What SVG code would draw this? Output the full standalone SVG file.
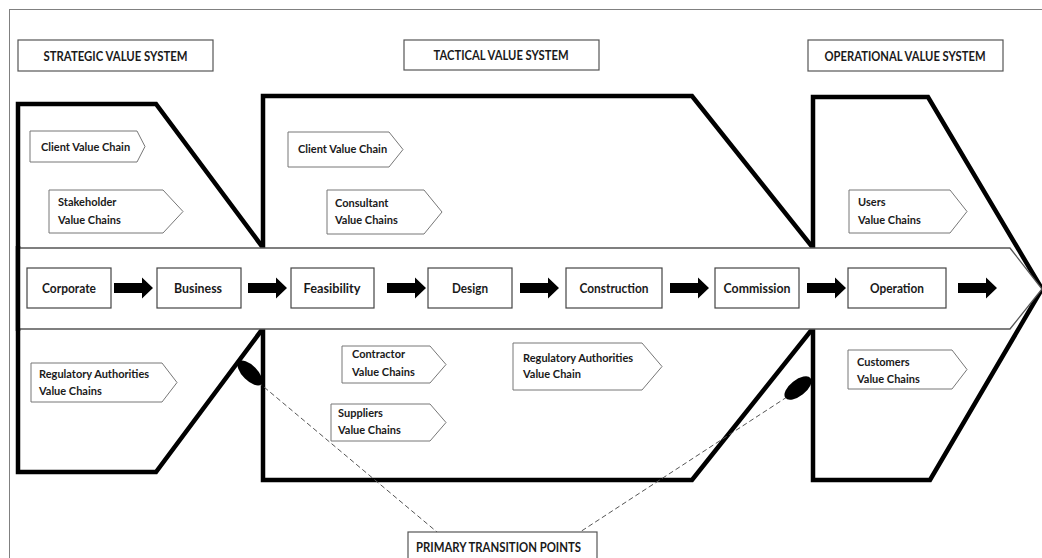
<svg xmlns="http://www.w3.org/2000/svg" width="1042" height="558" viewBox="0 0 1042 558">
<defs>
<style>
.frame{fill:none;stroke:#808080;stroke-width:1}
.panel{fill:#fff;stroke:#000;stroke-width:4.5;stroke-linejoin:miter}
.band{fill:#fff;stroke:#555;stroke-width:1.3}
.hdr{fill:#fff;stroke:#555;stroke-width:1.2}
.box{fill:#fff;stroke:#444;stroke-width:1.2}
.tag{fill:#fff;stroke:#777;stroke-width:1}
.t{font-family:Lato,"Liberation Sans",sans-serif;font-weight:bold;fill:#1a1a1a}
.th{font-size:13.5px;text-anchor:middle}
.tp{font-size:12.5px;text-anchor:middle}
.tt{font-size:11px}
.dash{fill:none;stroke:#555;stroke-width:1;stroke-dasharray:5 3}
</style>
<path id="arr" d="M0,-5 H28 V-10.5 L39,0 L28,10.5 V5 H0 Z" fill="#000"/>
</defs>
<rect width="1042" height="558" fill="#fff"/>
<rect class="frame" x="9.5" y="9.5" width="1040" height="560"/>

<g id="headers">
<g id="hdr-strategic"><rect class="hdr" x="18" y="40" width="195" height="31"/><text class="t th" x="115.5" y="61" textLength="144" lengthAdjust="spacingAndGlyphs">STRATEGIC VALUE SYSTEM</text></g>
<g id="hdr-tactical"><rect class="hdr" x="404" y="40" width="195" height="30"/><text class="t th" x="501" y="60" textLength="135" lengthAdjust="spacingAndGlyphs">TACTICAL VALUE SYSTEM</text></g>
<g id="hdr-operational"><rect class="hdr" x="808" y="40" width="195" height="31"/><text class="t th" x="905" y="61" textLength="161" lengthAdjust="spacingAndGlyphs">OPERATIONAL VALUE SYSTEM</text></g>
</g>

<g id="panels">
<polygon id="panel-strategic" class="panel" points="18,104 156,104 293,288 156,472 18,472"/>
<polygon id="panel-tactical" class="panel" points="263,96 692,96 845,288 692,480 263,480"/>
<polygon id="panel-operational" class="panel" points="813,97 928,97 1042,289 930,480 813,480"/>
</g>

<g id="band">
<polygon class="band" points="18,248 1010,248 1042,289 1010,329 18,329"/>
<line x1="18" y1="246" x2="18" y2="331" stroke="#000" stroke-width="4.5"/>
</g>

<g id="tags">
<g id="tag-client-1"><polygon class="tag" points="30,131 137,131 145,146.5 137,162 30,162"/><text class="t tt" x="41" y="151">Client Value Chain</text></g>
<g id="tag-stakeholder"><polygon class="tag" points="49,190 163,190 183,211.5 163,233 49,233"/><text class="t tt" x="58" y="206">Stakeholder</text><text class="t tt" x="58" y="224">Value Chains</text></g>
<g id="tag-client-2"><polygon class="tag" points="288,132 389,132 403,149.5 389,167 288,167"/><text class="t tt" x="298" y="153">Client Value Chain</text></g>
<g id="tag-consultant"><polygon class="tag" points="327,190 424,190 442,212 424,234 327,234"/><text class="t tt" x="335" y="207">Consultant</text><text class="t tt" x="335" y="224">Value Chains</text></g>
<g id="tag-users"><polygon class="tag" points="849,190 950,190 967,211.5 950,233 849,233"/><text class="t tt" x="858" y="206">Users</text><text class="t tt" x="858" y="224">Value Chains</text></g>
<g id="tag-regulatory-1"><polygon class="tag" points="31,363 162,363 177,382.5 162,402 31,402"/><text class="t tt" x="39" y="378">Regulatory Authorities</text><text class="t tt" x="39" y="395">Value Chains</text></g>
<g id="tag-contractor"><polygon class="tag" points="342,346 430,346 446,364.5 430,383 342,383"/><text class="t tt" x="352" y="358">Contractor</text><text class="t tt" x="352" y="376">Value Chains</text></g>
<g id="tag-suppliers"><polygon class="tag" points="331,404 430,404 446,422.5 430,441 331,441"/><text class="t tt" x="338" y="417">Suppliers</text><text class="t tt" x="338" y="434">Value Chains</text></g>
<g id="tag-regulatory-2"><polygon class="tag" points="513,343 642,343 662,366.5 642,390 513,390"/><text class="t tt" x="523" y="362">Regulatory Authorities</text><text class="t tt" x="523" y="378">Value Chain</text></g>
<g id="tag-customers"><polygon class="tag" points="848,350 952,350 967,369.5 952,389 848,389"/><text class="t tt" x="857" y="366">Customers</text><text class="t tt" x="857" y="383">Value Chains</text></g>
</g>

<g id="connectors">
<use href="#arr" x="114" y="288"/>
<use href="#arr" x="248" y="288"/>
<use href="#arr" x="387" y="288"/>
<use href="#arr" x="520" y="288"/>
<use href="#arr" x="670" y="288"/>
<use href="#arr" x="807" y="288"/>
<use href="#arr" x="958" y="288"/>
<line class="dash" x1="258" y1="382" x2="437" y2="532"/>
<line class="dash" x1="787" y1="397" x2="580" y2="532"/>
</g>

<g id="stages">
<g id="stage-corporate"><rect class="box" x="27" y="268" width="84" height="40"/><text class="t tp" x="69" y="293" textLength="54" lengthAdjust="spacingAndGlyphs">Corporate</text></g>
<g id="stage-business"><rect class="box" x="157" y="268" width="84" height="40"/><text class="t tp" x="198" y="293" textLength="48" lengthAdjust="spacingAndGlyphs">Business</text></g>
<g id="stage-feasibility"><rect class="box" x="291" y="268" width="83" height="40"/><text class="t tp" x="332" y="293" textLength="57" lengthAdjust="spacingAndGlyphs">Feasibility</text></g>
<g id="stage-design"><rect class="box" x="428" y="268" width="84" height="40"/><text class="t tp" x="470" y="293" textLength="36" lengthAdjust="spacingAndGlyphs">Design</text></g>
<g id="stage-construction"><rect class="box" x="566" y="268" width="96" height="40"/><text class="t tp" x="614" y="293" textLength="69" lengthAdjust="spacingAndGlyphs">Construction</text></g>
<g id="stage-commission"><rect class="box" x="715" y="268" width="84" height="40"/><text class="t tp" x="757" y="293" textLength="67" lengthAdjust="spacingAndGlyphs">Commission</text></g>
<g id="stage-operation"><rect class="box" x="848" y="268" width="98" height="40"/><text class="t tp" x="897" y="293" textLength="54" lengthAdjust="spacingAndGlyphs">Operation</text></g>
</g>

<g id="transition-points">
<ellipse cx="250" cy="373" rx="16" ry="7.5" transform="rotate(45 250 373)" fill="#000"/>
<ellipse cx="798" cy="388" rx="16" ry="8" transform="rotate(-38 798 388)" fill="#000"/>
<g id="label-transition"><rect class="hdr" x="408" y="532" width="189" height="40"/><text class="t th" x="498.5" y="552" textLength="165" lengthAdjust="spacingAndGlyphs">PRIMARY TRANSITION POINTS</text></g>
</g>
</svg>
